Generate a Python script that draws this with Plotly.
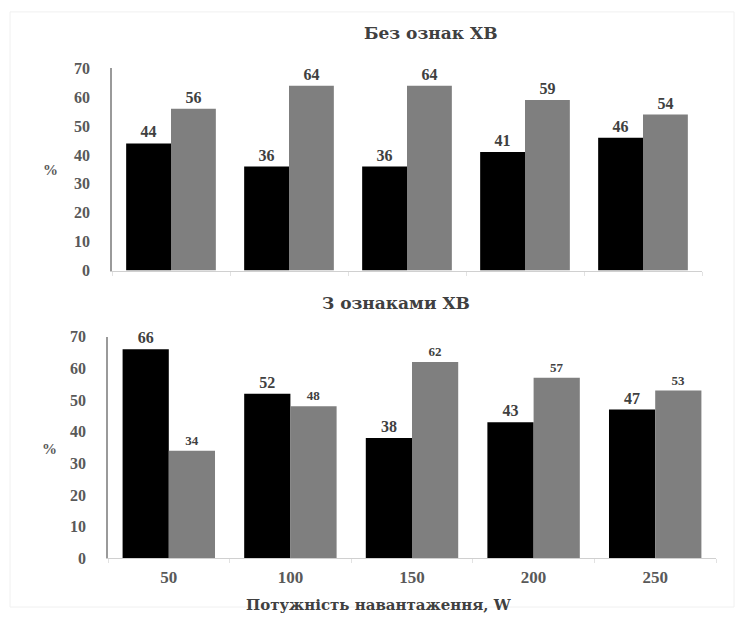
import plotly.graph_objects as go

# Load power levels (W) and shares (%) for the two groups
loads = ["50", "100", "150", "200", "250"]
no_signs_black = [44, 36, 36, 41, 46]
no_signs_gray = [56, 64, 64, 59, 54]
signs_black = [66, 52, 38, 43, 47]
signs_gray = [34, 48, 62, 57, 53]

title_top = "Без ознак ХВ"
title_bottom = "З ознаками ХВ"
x_title = "Потужність навантаження, W"
y_title = "%"
y_ticks = [0, 10, 20, 30, 40, 50, 60, 70]

SERIF = "Liberation Serif"
SERIF_CYR = "DejaVu Serif"
BLACK = "#000000"
GRAY = "#7f7f7f"
TEXT = "#404040"
TICK = "#595959"

W, H = 744, 617


def px(x):
    return x / W


def py(y):
    return 1 - y / H


fig = go.Figure()


def bars(y, color, xa, ya, size):
    return go.Bar(
        x=loads, y=y, marker=dict(color=color, line=dict(width=0)),
        text=[str(v) for v in y], textposition="outside", cliponaxis=False,
        textfont=dict(family=SERIF, size=size, color=TEXT, weight="bold"),
        xaxis=xa, yaxis=ya, showlegend=False, hoverinfo="skip",
    )


fig.add_trace(bars(no_signs_black, BLACK, "x", "y", 16))
fig.add_trace(bars(no_signs_gray, GRAY, "x", "y", 16))
fig.add_trace(bars(signs_black, BLACK, "x2", "y2", 16))
fig.add_trace(bars(signs_gray, GRAY, "x2", "y2", 13))

xcommon = dict(
    type="category", showline=True, linecolor="#d0d0d0", linewidth=1,
    showgrid=False, zeroline=False, fixedrange=True,
    ticks="outside", tickson="boundaries", ticklen=4, tickcolor="#e2e2e2",
)
ycommon = dict(
    range=[0, 70], tickvals=y_ticks, showline=True, linecolor="#9a9a9a",
    linewidth=1.5, showgrid=False, zeroline=False, ticks="",
    ticklabelstandoff=17,
    tickfont=dict(family=SERIF, size=16, color=TICK, weight="bold"),
)

fig.update_layout(
    width=W, height=H, margin=dict(l=0, r=0, t=0, b=0),
    paper_bgcolor="white", plot_bgcolor="white",
    font=dict(family=SERIF),
    barmode="group", bargap=0.24, bargroupgap=0,
    xaxis=dict(domain=[px(112), px(702)], anchor="y", showticklabels=False, **xcommon),
    yaxis=dict(domain=[py(270), py(62)], anchor="x", **ycommon),
    xaxis2=dict(domain=[px(108), px(716)], anchor="y2",
                tickfont=dict(family=SERIF, size=17, color=TICK, weight="bold"),
                ticklabelstandoff=3, **xcommon),
    yaxis2=dict(domain=[py(566), py(338)], anchor="x2", **ycommon),
)

annots = [
    (title_top, 431, 26, 17, TEXT, SERIF_CYR),
    (title_bottom, 396, 303, 17, TEXT, SERIF_CYR),
    (x_title, 379, 614, 15, TEXT, SERIF_CYR),
    (y_title, 50, 167, 15, TICK, SERIF),
    (y_title, 49, 454, 15, TICK, SERIF),
]
for txt, x, y, size, col, fam in annots:
    fig.add_annotation(
        text=txt, x=px(x), y=py(y), xref="paper", yref="paper",
        showarrow=False, xanchor="center", yanchor="middle",
        font=dict(family=fam, size=size, color=col, weight="bold"),
    )

# faint frame around the figure
fig.add_shape(type="rect", xref="paper", yref="paper",
              x0=px(10), x1=px(734), y0=py(616), y1=py(4),
              line=dict(color="#f0f0f0", width=1))

fig.write_html("out.html")
